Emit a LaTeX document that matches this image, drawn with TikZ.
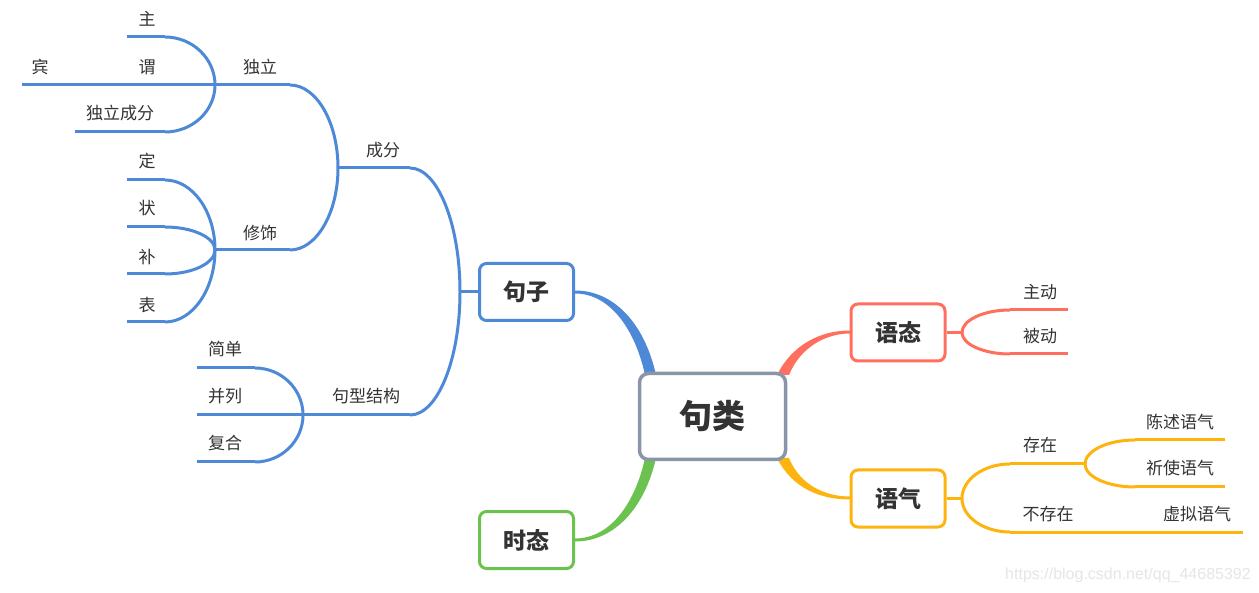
\documentclass[tikz,border=0pt]{standalone}
\usepackage{fontspec}
\setmainfont{Noto Sans CJK SC}
\newfontfamily\wmfont{Liberation Sans}
\usetikzlibrary{calc}
\definecolor{cblue}{HTML}{4D89D7}
\definecolor{cred}{HTML}{FF6F5E}
\definecolor{corange}{HTML}{FDB40F}
\definecolor{cgreen}{HTML}{6CC24F}
\definecolor{cgray}{HTML}{8A96A8}
\definecolor{ctext}{HTML}{333333}
\definecolor{cwm}{HTML}{E6E6E6}
\newcommand\mmbr[3]{\draw[#1] (#2) .. controls ($(#2)!0.55!(#2|-#3)$) and ($(#3)!0.55!(#3-|#2)$) .. (#3);}
\tikzset{
  blu/.style={draw=cblue, line width=3pt},
  redl/.style={draw=cred, line width=3pt},
  orl/.style={draw=corange, line width=3pt},
  lbl/.style={font=\fontsize{17}{17}\selectfont, text=ctext, inner sep=0pt},
  topic/.style={line width=3pt, rounded corners=7pt, fill=white, minimum width=94pt, minimum height=57pt, inner sep=0pt, font=\bfseries\fontsize{23}{23}\selectfont, text=ctext},
  rootbox/.style={draw=cgray, line width=3.5pt, rounded corners=9pt, fill=white, minimum width=146pt, minimum height=86pt, inner sep=0pt, font=\bfseries\fontsize{33}{33}\selectfont, text=ctext}
}
\begin{document}
\begin{tikzpicture}[x=1pt,y=-1pt]
\useasboundingbox[fill=white] (0,0) rectangle (1259,593);
% tapered main connectors
\fill[cblue] (575,290.5) .. controls (615,290.5) and (645,325) .. (656,375) -- (645,375) .. controls (636,333) and (612,293.5) .. (575,293.5) -- cycle;
\fill[cgreen] (575,541.5) .. controls (615,541.5) and (645,507) .. (656,458) -- (645,458) .. controls (636,500) and (612,538.5) .. (575,538.5) -- cycle;
\fill[cred] (777,375) .. controls (792,345) and (820,330.5) .. (850,330.5) -- (850,333.5) .. controls (825,333.5) and (800,348) .. (789,375) -- cycle;
\fill[corange] (777,458) .. controls (792,488) and (820,499.5) .. (850,499.5) -- (850,496.5) .. controls (825,496.5) and (800,485) .. (789,458) -- cycle;
% nodes
\node[rootbox] (root) at (712.5,416.5) {句类};
\node[topic, draw=cblue] (juzi) at (526.5,292) {句子};
\node[topic, draw=cgreen] (shitai) at (526.5,540) {时态};
\node[topic, draw=cred] (yutai) at (898,332.5) {语态};
\node[topic, draw=corange] (yuqi) at (898,498.5) {语气};
% blue coordinates
\coordinate (J) at (460,292);
\coordinate (cfR) at (410,168); \coordinate (cfL) at (338,168);
\coordinate (jxR) at (410,415); \coordinate (jxL) at (303,415);
\coordinate (dlR) at (290,85); \coordinate (dlL) at (215,85);
\coordinate (xsR) at (290,250); \coordinate (xsL) at (215,250);
\coordinate (zhuR) at (165,37); \coordinate (zhuL) at (127,37);
\coordinate (weiL) at (127,85);
\coordinate (binL) at (22,85);
\coordinate (dcR) at (165,132); \coordinate (dcL) at (75,132);
\coordinate (dingR) at (165,180); \coordinate (dingL) at (127,180);
\coordinate (zhR) at (165,227); \coordinate (zhL) at (127,227);
\coordinate (buR) at (165,274); \coordinate (buL) at (127,274);
\coordinate (biR) at (165,322); \coordinate (biL) at (127,322);
\coordinate (jdR) at (255,368); \coordinate (jdL) at (197,368);
\coordinate (blL) at (197,415);
\coordinate (fhR) at (255,462); \coordinate (fhL) at (197,462);
% blue branches
\draw[blu] (juzi.west) -- (J);
\mmbr{blu}{J}{cfR} \draw[blu] (cfR) -- (cfL);
\mmbr{blu}{J}{jxR} \draw[blu] (jxR) -- (jxL);
\mmbr{blu}{cfL}{dlR} \draw[blu] (dlR) -- (dlL);
\mmbr{blu}{cfL}{xsR} \draw[blu] (xsR) -- (xsL);
\mmbr{blu}{dlL}{zhuR} \draw[blu] (zhuR) -- (zhuL);
\draw[blu] (dlL) -- (weiL);
\draw[blu] (weiL) -- (binL);
\mmbr{blu}{dlL}{dcR} \draw[blu] (dcR) -- (dcL);
\mmbr{blu}{xsL}{dingR} \draw[blu] (dingR) -- (dingL);
\mmbr{blu}{xsL}{zhR} \draw[blu] (zhR) -- (zhL);
\mmbr{blu}{xsL}{buR} \draw[blu] (buR) -- (buL);
\mmbr{blu}{xsL}{biR} \draw[blu] (biR) -- (biL);
\mmbr{blu}{jxL}{jdR} \draw[blu] (jdR) -- (jdL);
\draw[blu] (jxL) -- (blL);
\mmbr{blu}{jxL}{fhR} \draw[blu] (fhR) -- (fhL);
% red
\coordinate (yt) at (962,332.5);
\coordinate (zdL) at (1010,310); \coordinate (zdR) at (1068,310);
\coordinate (bdL) at (1010,354); \coordinate (bdR) at (1068,354);
\draw[redl] (yutai.east) -- (yt);
\mmbr{redl}{yt}{zdL} \draw[redl] (zdL) -- (zdR);
\mmbr{redl}{yt}{bdL} \draw[redl] (bdL) -- (bdR);
% orange
\coordinate (yq) at (962,498.5);
\coordinate (czL) at (1010,464); \coordinate (czR) at (1085,464);
\coordinate (bcL) at (1010,532); \coordinate (bcR) at (1085,532);
\coordinate (csL) at (1135,440); \coordinate (csR) at (1225,440);
\coordinate (qsL) at (1135,487); \coordinate (qsR) at (1225,487);
\coordinate (xnR) at (1243,532);
\draw[orl] (yuqi.east) -- (yq);
\mmbr{orl}{yq}{czL} \draw[orl] (czL) -- (czR);
\mmbr{orl}{yq}{bcL} \draw[orl] (bcL) -- (bcR);
\mmbr{orl}{czR}{csL} \draw[orl] (csL) -- (csR);
\mmbr{orl}{czR}{qsL} \draw[orl] (qsL) -- (qsR);
\draw[orl] (bcR) -- (xnR);
% labels
\node[lbl] (t-zhu) at (147,19) {主};
\node[lbl] (t-wei) at (147,67) {谓};
\node[lbl] (t-bin) at (40,67) {宾};
\node[lbl] (t-dlcf) at (120,113) {独立成分};
\node[lbl] (t-ding) at (147,161) {定};
\node[lbl] (t-zhuang) at (147,208) {状};
\node[lbl] (t-bu) at (147,257) {补};
\node[lbl] (t-biao) at (147,305) {表};
\node[lbl] (t-duli) at (260,67) {独立};
\node[lbl] (t-xiushi) at (260,233) {修饰};
\node[lbl] (t-chengfen) at (383,150) {成分};
\node[lbl] (t-jiandan) at (225,349) {简单};
\node[lbl] (t-binglie) at (225,396) {并列};
\node[lbl] (t-fuhe) at (225,443) {复合};
\node[lbl] (t-jxjg) at (366,396) {句型结构};
\node[lbl] (t-zhudong) at (1040,292) {主动};
\node[lbl] (t-beidong) at (1040,336) {被动};
\node[lbl] (t-cunzai) at (1040,445) {存在};
\node[lbl] (t-bcz) at (1048,514) {不存在};
\node[lbl] (t-chenshu) at (1180,422) {陈述语气};
\node[lbl] (t-qishi) at (1180,468) {祈使语气};
\node[lbl] (t-xuni) at (1197,514) {虚拟语气};
\node[font=\wmfont\fontsize{16}{16}\selectfont, text=cwm, inner sep=0pt] (wm) at (1128,575) {https://blog.csdn.net/qq\_44685392};
\end{tikzpicture}
\end{document}
